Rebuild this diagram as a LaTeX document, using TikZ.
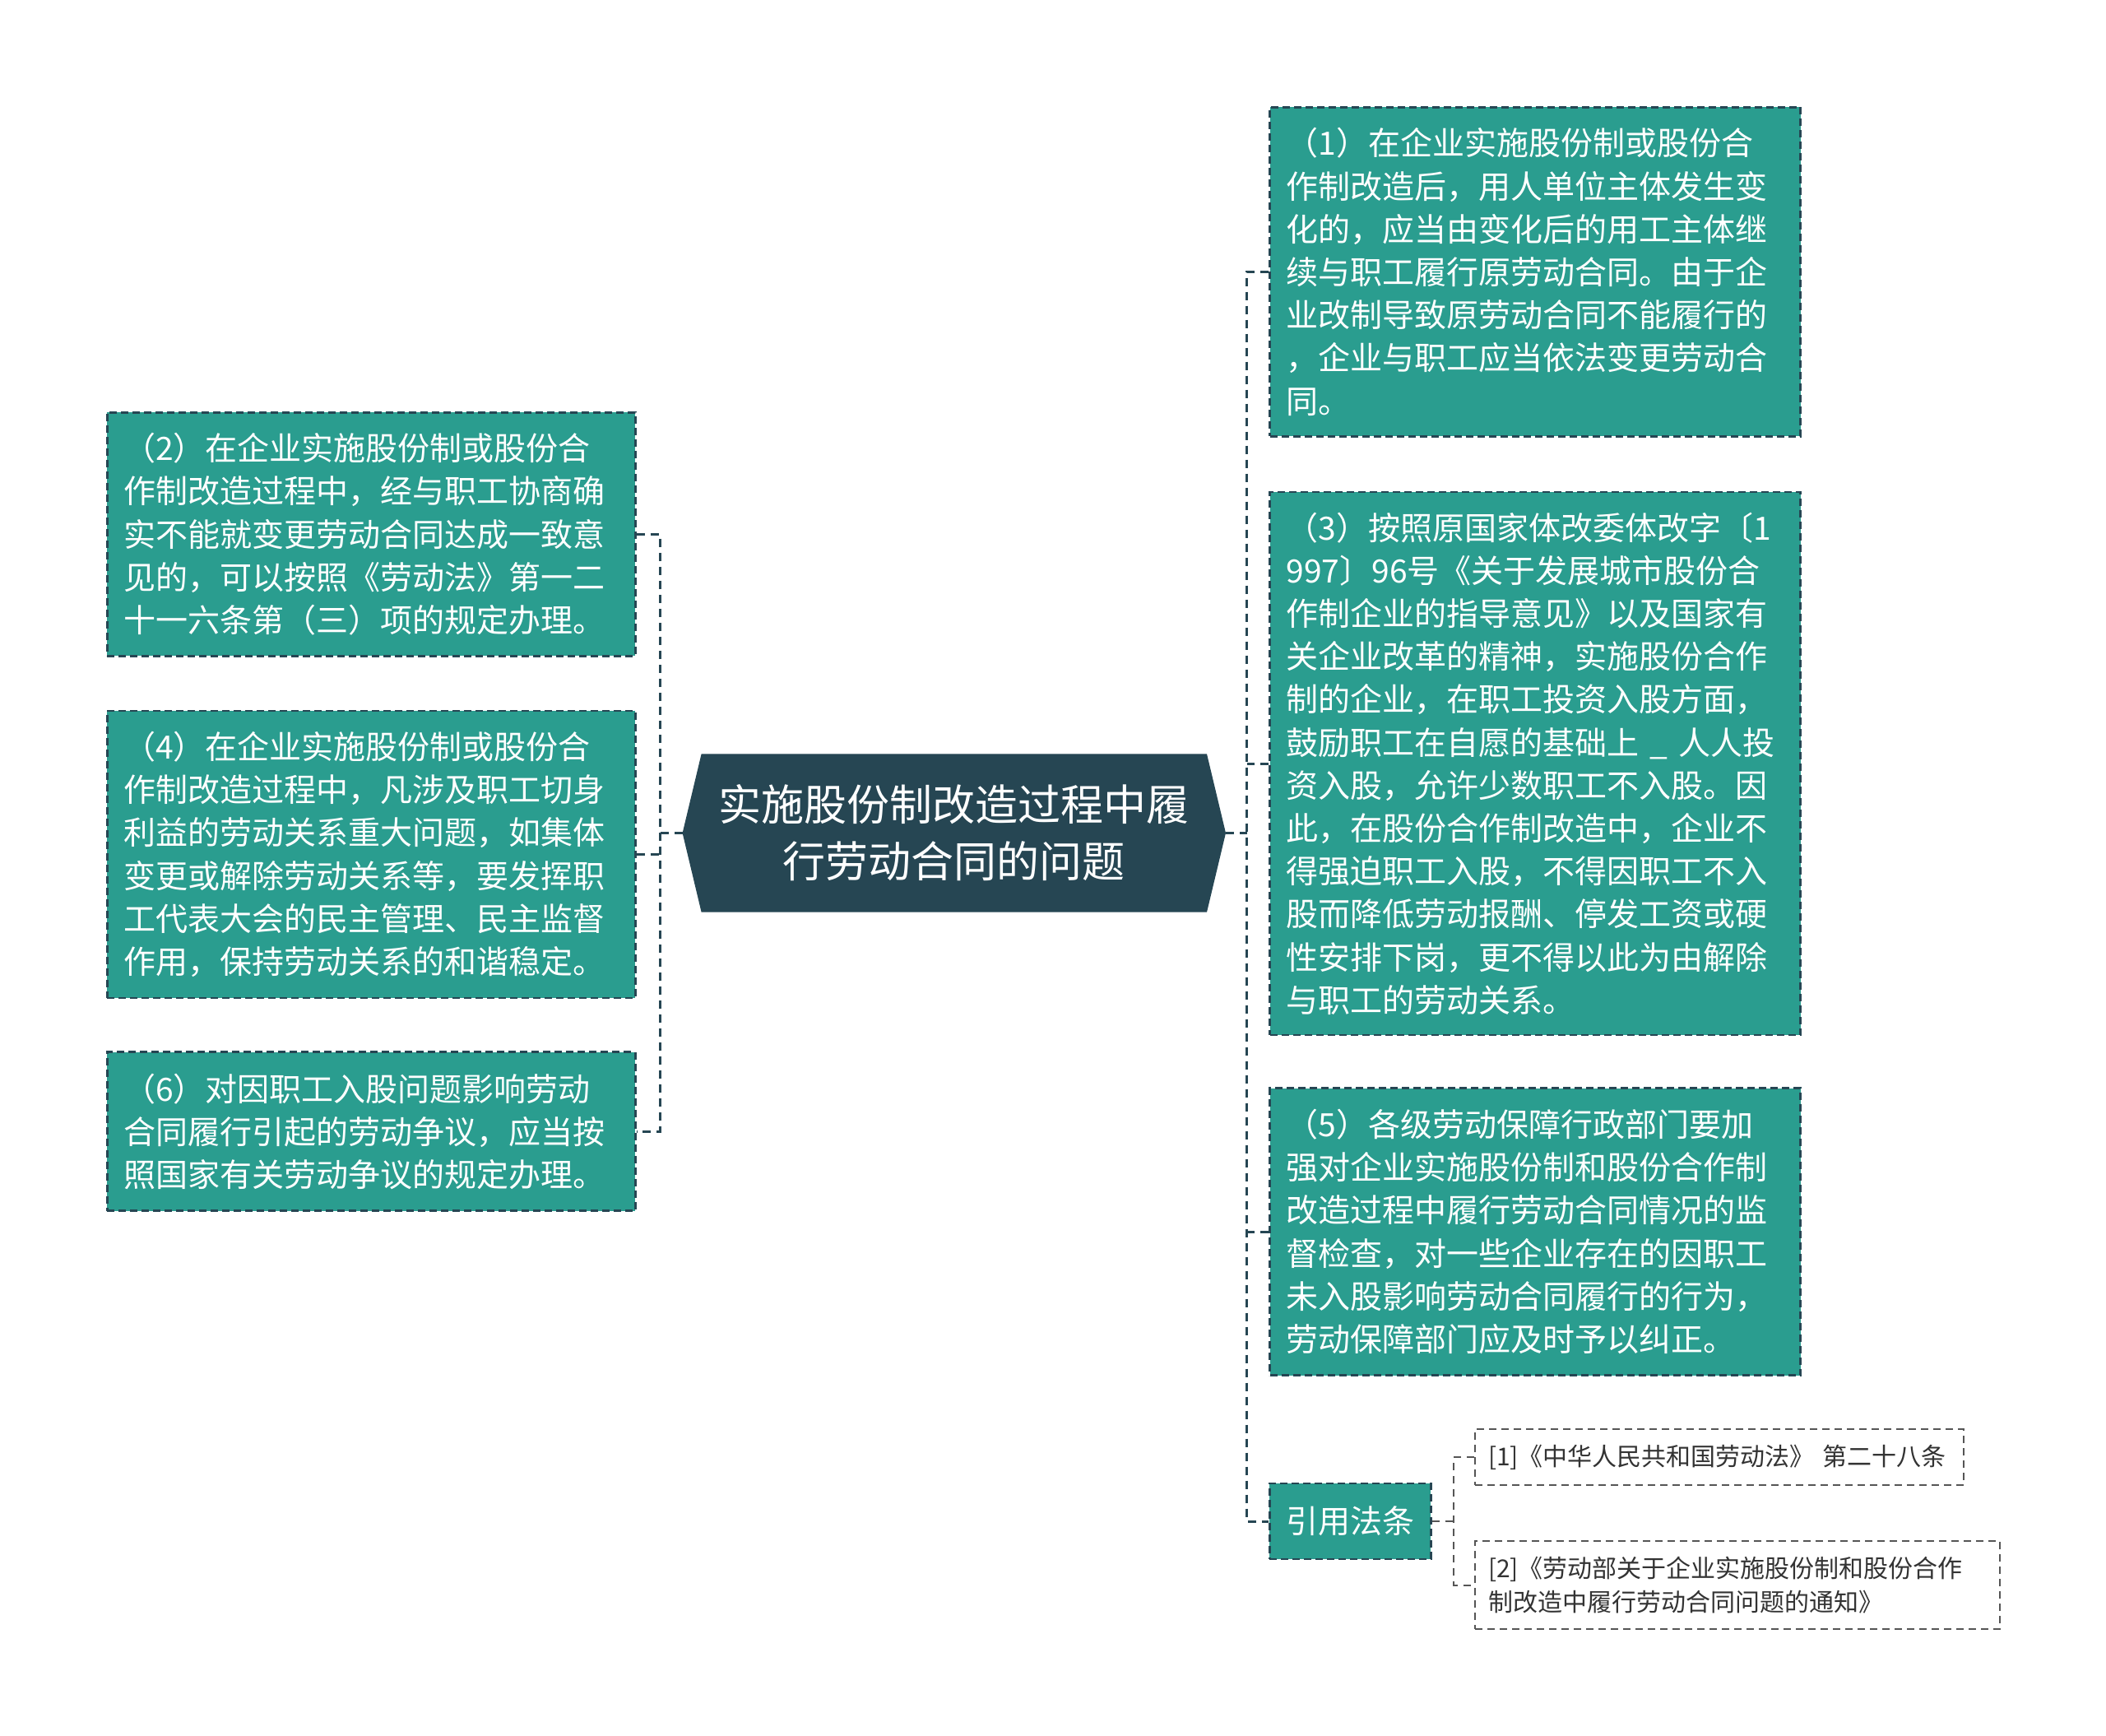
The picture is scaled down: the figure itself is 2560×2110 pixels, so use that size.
\documentclass[tikz,border=0pt]{standalone}
\usepackage{fontspec}
\setmainfont{Noto Sans CJK SC}
\usetikzlibrary{backgrounds}
\definecolor{dk}{HTML}{264653}
\definecolor{teal1}{HTML}{2A9D8F}
\definecolor{gr}{HTML}{555555}
\definecolor{txt}{HTML}{333333}
\begin{document}
\begin{tikzpicture}[x=1pt,y=-1pt,
  conn/.style={draw=dk, line width=3pt, dash pattern=on 10pt off 7pt},
  rconn/.style={draw=gr, line width=2pt, dash pattern=on 9pt off 7pt},
  tbox/.style={fill=teal1, draw=dk, line width=2.5pt, dash pattern=on 9pt off 5pt, text=white,
    font=\fontsize{39}{52.2}\selectfont, align=left, inner xsep=20pt, inner ysep=0pt, anchor=center},
  rbox/.style={fill=white, draw=gr, line width=2pt, dash pattern=on 9pt off 6pt, text=txt,
    font=\fontsize{30}{41}\selectfont, align=left, inner xsep=16pt, inner ysep=0pt, anchor=center},
  cnode/.style={draw=none, text=white, font=\fontsize{52}{69}\selectfont, align=center, inner sep=0pt, anchor=center}
]
\useasboundingbox (0,0) rectangle (2560,2110);
% center
\node[cnode, minimum width=660pt, minimum height=192pt] (c) at (1159.8,1012.5)
  {实施股份制改造过程中履\\行劳动合同的问题};
\begin{scope}[on background layer]
\fill[dk] ([xshift=23pt]c.north west) -- ([xshift=-23pt]c.north east) -- (c.east)
  -- ([xshift=-23pt]c.south east) -- ([xshift=23pt]c.south west) -- (c.west) -- cycle;
\end{scope}
% right boxes
\node[tbox, text width=605pt, minimum height=400pt] (b1) at (1866,330.4)
  {（1）在企业实施股份制或股份合\\作制改造后，用人单位主体发生变\\化的，应当由变化后的用工主体继\\续与职工履行原劳动合同。由于企\\业改制导致原劳动合同不能履行的\\，企业与职工应当依法变更劳动合\\同。};
\node[tbox, text width=605pt, minimum height=660pt] (b3) at (1866,928)
  {（3）按照原国家体改委体改字〔1\\997〕96号《关于发展城市股份合\\作制企业的指导意见》以及国家有\\关企业改革的精神，实施股份合作\\制的企业，在职工投资入股方面，\\鼓励职工在自愿的基础上 \_ 人人投\\资入股，允许少数职工不入股。因\\此，在股份合作制改造中，企业不\\得强迫职工入股，不得因职工不入\\股而降低劳动报酬、停发工资或硬\\性安排下岗，更不得以此为由解除\\与职工的劳动关系。};
\node[tbox, text width=605pt, minimum height=349pt] (b5) at (1866,1497)
  {（5）各级劳动保障行政部门要加\\强对企业实施股份制和股份合作制\\改造过程中履行劳动合同情况的监\\督检查，对一些企业存在的因职工\\未入股影响劳动合同履行的行为，\\劳动保障部门应及时予以纠正。};
\node[tbox, text width=156pt, minimum height=92pt] (yy) at (1641.4,1849) {引用法条};
\node[rbox, text width=562pt, minimum height=68pt] (r1) at (2090,1771)
  {[1]《中华人民共和国劳动法》 第二十八条};
\node[rbox, text width=606pt, minimum height=107pt] (r2) at (2112,1926.5)
  {[2]《劳动部关于企业实施股份制和股份合作\\制改造中履行劳动合同问题的通知》};
% left boxes
\node[tbox, text width=602pt, minimum height=296pt] (b2) at (451.3,649.3)
  {（2）在企业实施股份制或股份合\\作制改造过程中，经与职工协商确\\实不能就变更劳动合同达成一致意\\见的，可以按照《劳动法》第一二\\十一六条第（三）项的规定办理。};
\node[tbox, text width=602pt, minimum height=349pt] (b4) at (451.3,1038.4)
  {（4）在企业实施股份制或股份合\\作制改造过程中，凡涉及职工切身\\利益的劳动关系重大问题，如集体\\变更或解除劳动关系等，要发挥职\\工代表大会的民主管理、民主监督\\作用，保持劳动关系的和谐稳定。};
\node[tbox, text width=602pt, minimum height=193pt] (b6) at (451.3,1375.2)
  {（6）对因职工入股问题影响劳动\\合同履行引起的劳动争议，应当按\\照国家有关劳动争议的规定办理。};
% connectors
\coordinate (lj) at (802,1012.5);
\coordinate (rj) at (1515.5,1012.5);
\coordinate (qj) at (1767,1849);
\draw[conn] (c.west) -- (lj);
\draw[conn] (b2.east) -- (b2.east -| lj) -- (b6.east -| lj) -- (b6.east);
\draw[conn] (b4.east) -- (b4.east -| lj);
\draw[conn] (c.east) -- (rj);
\draw[conn] (b1.west) -- (b1.west -| rj) -- (yy.west -| rj) -- (yy.west);
\draw[conn] (b3.west) -- (b3.west -| rj);
\draw[conn] (b5.west) -- (b5.west -| rj);
\draw[rconn] (yy.east) -- (qj);
\draw[rconn] (r1.west) -- (r1.west -| qj) -- (r2.west -| qj) -- (r2.west);
\end{tikzpicture}
\end{document}
